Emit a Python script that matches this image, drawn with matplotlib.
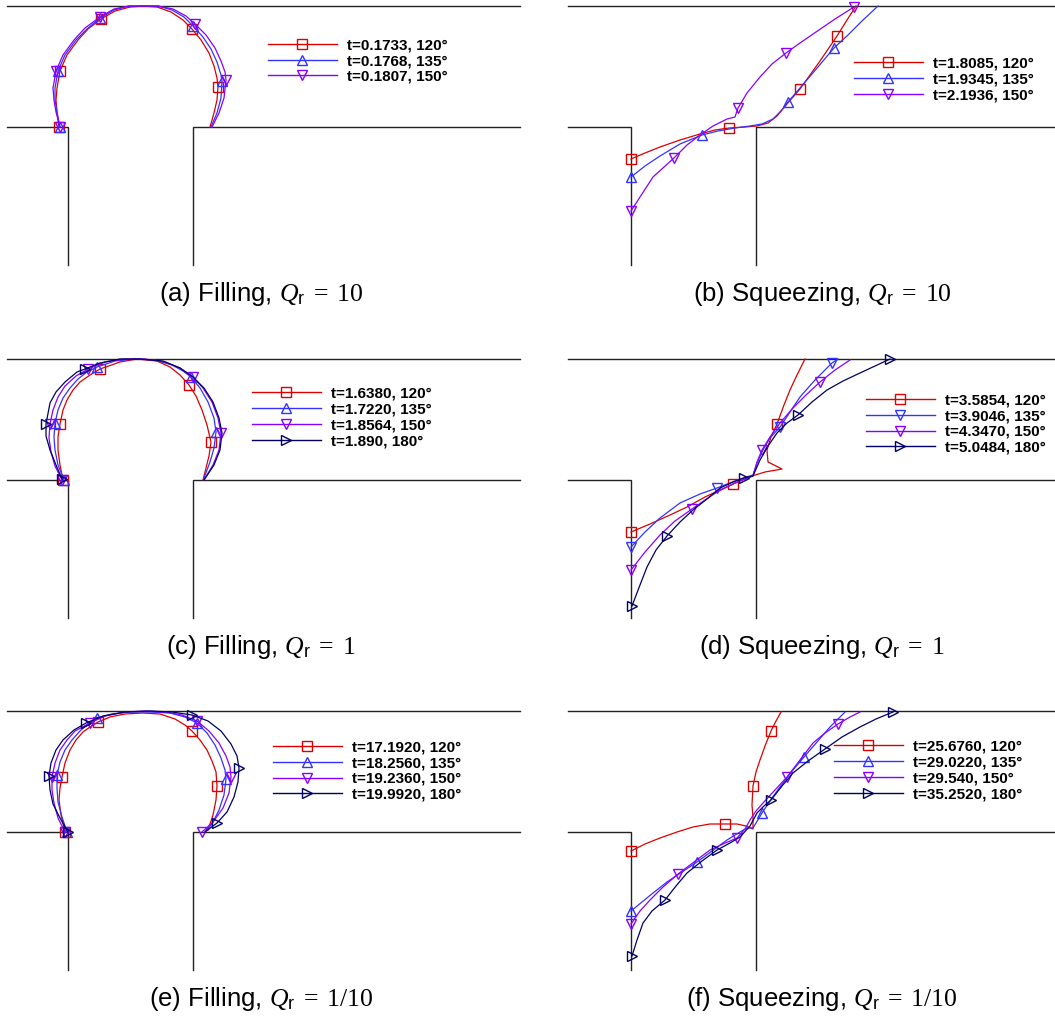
import matplotlib
matplotlib.use("Agg")
import matplotlib.pyplot as plt
from matplotlib.lines import Line2D

plt.rcParams["font.family"] = ["Liberation Sans", "DejaVu Sans"]
plt.rcParams["mathtext.fontset"] = "custom"
plt.rcParams["mathtext.rm"] = "Liberation Serif"
plt.rcParams["mathtext.it"] = "Liberation Serif:italic"
plt.rcParams["mathtext.sf"] = "Liberation Sans"

# channel geometry (same units as the interfaces)
CHANNEL_W = 125
TOP_WALL = 121
BOTTOM = -138

# interface shapes: (x, y) points, marker indices, legend label

# (a) Filling, Qr = 10
a_120 = [(-9, 0), (-11, 15), (-12, 27), (-11, 39), (-8, 56), (-1, 72), (10, 87), (20, 98),
         (33, 108), (47, 116), (62, 120), (75, 121), (89, 120), (103, 115), (115, 107),
         (124, 98), (133, 87), (141, 74), (146, 61), (149, 49), (150, 40), (149, 27),
         (146, 14), (142, 0)]
a_120_marks = [0, 4, 8, 15, 20]
a_135 = [(-8, 0), (-11, 15), (-13, 27), (-13, 39), (-10, 56), (-3, 72), (8, 87), (19, 98),
         (32, 109), (46, 117), (61, 121), (75, 121), (90, 121), (104, 117), (116, 110),
         (125, 101), (135, 90), (143, 78), (149, 65), (153, 52), (154, 46), (153, 29),
         (149, 14), (143, 0)]
a_135_marks = [0, 4, 8, 15, 20]
a_150 = [(-8, 0), (-12, 15), (-14, 27), (-15, 39), (-12, 56), (-5, 72), (6, 87), (17, 99),
         (32, 110), (46, 118), (61, 121), (75, 121), (90, 121), (105, 118), (118, 111),
         (127, 103), (138, 92), (147, 79), (153, 66), (157, 55), (158, 47), (156, 29),
         (151, 14), (144, 0)]
a_150_marks = [0, 4, 8, 15, 20]
a_labels = ["t=0.1733, 120°", "t=0.1768, 135°", "t=0.1807, 150°"]

# (b) Squeezing, Qr = 10
b_120 = [(0, -32), (14, -26), (29, -20), (49, -13), (69, -7), (84, -3), (98, -1), (114, 0),
         (126, 1), (137, 4), (146, 11), (156, 23), (169, 38), (179, 52), (189, 66),
         (206, 91), (216, 107), (225, 121)]
b_120_marks = [0, 6, 12, 15]
b_135 = [(0, -50), (14, -39), (29, -29), (49, -17), (71, -8), (87, -4), (104, -1), (119, 1),
         (131, 3), (142, 8), (150, 16), (157, 25), (169, 39), (181, 53), (192, 66),
         (203, 79), (217, 92), (231, 106), (247, 121)]
b_135_marks = [0, 4, 11, 15]
b_150 = [(0, -84), (9, -70), (22, -50), (43, -31), (56, -18), (69, -8), (82, 1), (96, 8),
         (104, 10), (107, 19), (116, 34), (129, 50), (141, 63), (155, 74), (169, 84),
         (185, 95), (204, 108), (223, 120)]
b_150_marks = [0, 3, 9, 13, 17]
b_labels = ["t=1.8085, 120°", "t=1.9345, 135°", "t=2.1936, 150°"]

# (c) Filling, Qr = 1
c_120 = [(-5, 0), (-8, 15), (-10, 30), (-10, 43), (-8, 56), (-5, 70), (-1, 80), (5, 90),
         (12, 98), (22, 105), (32, 111), (52, 118), (69, 121), (89, 119), (102, 113),
         (112, 105), (121, 95), (128, 84), (134, 70), (139, 55), (143, 38), (141, 24),
         (138, 12), (135, 0)]
c_120_marks = [0, 4, 10, 16, 20]
c_135 = [(-4, 0), (-10, 15), (-13, 30), (-14, 43), (-13, 57), (-10, 70), (-5, 82), (2, 92),
         (10, 101), (19, 108), (29, 113), (47, 119), (67, 121), (87, 120), (104, 115),
         (115, 109), (123, 103), (132, 92), (140, 78), (146, 62), (148, 48), (146, 32),
         (142, 18), (136, 2)]
c_135_marks = [0, 4, 10, 16, 20]
c_150 = [(-6, 0), (-13, 14), (-17, 28), (-19, 42), (-18, 56), (-15, 70), (-10, 83), (-3, 94),
         (8, 104), (20, 111), (37, 118), (57, 121), (77, 121), (97, 118), (112, 112),
         (125, 103), (135, 92), (144, 78), (150, 62), (153, 47), (151, 30), (145, 15),
         (136, 0)]
c_150_marks = [0, 4, 9, 15, 19]
c_180 = [(-6, 1), (-12, 15), (-18, 30), (-22, 44), (-22, 56), (-18, 77), (-12, 88), (-3, 98),
         (9, 108), (17, 111), (32, 117), (52, 121), (72, 121), (95, 119), (112, 112),
         (125, 103), (136, 92), (145, 78), (151, 62), (154, 47), (152, 30), (146, 15),
         (136, 0)]
c_180_marks = [0, 4, 9]
c_labels = ["t=1.6380, 120°", "t=1.7220, 135°", "t=1.8564, 150°", "t=1.890, 180°"]

# (d) Squeezing, Qr = 1
d_120 = [(0, -52), (19, -44), (39, -35), (56, -27), (74, -17), (89, -10), (102, -4), (114, 1),
         (121, 4), (134, 8), (151, 11), (137, 18), (136, 30), (140, 43), (146, 56),
         (153, 75), (159, 90), (166, 105), (174, 121)]
d_120_marks = [0, 6, 14]
d_135 = [(0, -67), (14, -52), (29, -38), (49, -23), (69, -14), (86, -8), (99, -3), (112, 2),
         (122, 5), (126, 17), (132, 30), (139, 42), (149, 53), (159, 68), (169, 83),
         (184, 100), (201, 117), (207, 121)]
d_135_marks = [0, 5, 12, 16]
d_150 = [(0, -90), (14, -72), (29, -55), (44, -41), (61, -29), (74, -20), (86, -12),
         (104, -3), (122, 4), (126, 18), (131, 30), (139, 43), (149, 57), (162, 72),
         (175, 85), (189, 98), (204, 110), (219, 120)]
d_150_marks = [0, 4, 10, 15]
d_180 = [(1, -126), (9, -105), (16, -87), (25, -70), (36, -56), (49, -42), (62, -30),
         (76, -19), (89, -8), (102, -2), (113, 2), (122, 4), (129, 20), (137, 34),
         (146, 47), (156, 57), (167, 65), (181, 78), (196, 90), (212, 99), (229, 107),
         (244, 114), (259, 121)]
d_180_marks = [0, 4, 10, 16, 22]
d_labels = ["t=3.5854, 120°", "t=3.9046, 135°", "t=4.3470, 150°", "t=5.0484, 180°"]

# (e) Filling, Qr = 1/10
e_120 = [(-3, 0), (-7, 17), (-9, 32), (-8, 44), (-6, 55), (-3, 69), (2, 82), (8, 92),
         (15, 100), (22, 105), (30, 110), (42, 115), (57, 118), (75, 119), (92, 118),
         (107, 113), (117, 107), (124, 101), (132, 92), (139, 82), (144, 71), (148, 60),
         (149, 46), (148, 32), (145, 17), (140, 2)]
e_120_marks = [0, 4, 10, 17, 22]
e_135 = [(-1, 0), (-6, 15), (-10, 30), (-11, 44), (-11, 57), (-8, 70), (-3, 82), (4, 92),
         (12, 101), (20, 108), (29, 114), (44, 118), (62, 120), (82, 120), (102, 119),
         (117, 115), (129, 109), (139, 99), (147, 87), (153, 74), (157, 62), (158, 53),
         (156, 37), (151, 22), (144, 8), (137, 0)]
e_135_marks = [0, 4, 10, 16, 21]
e_150 = [(-3, 0), (-10, 14), (-14, 29), (-16, 42), (-16, 55), (-13, 69), (-8, 82), (-1, 92),
         (7, 101), (22, 109), (37, 116), (57, 120), (77, 121), (97, 120), (114, 117),
         (129, 111), (141, 101), (151, 89), (158, 76), (162, 65), (163, 55), (161, 39),
         (155, 24), (145, 10), (134, 0)]
e_150_marks = [0, 4, 9, 15, 20, 24]
e_180 = [(0, 0), (-8, 14), (-15, 28), (-18, 42), (-19, 56), (-17, 69), (-12, 82), (-5, 92),
         (6, 102), (18, 109), (35, 116), (57, 120), (82, 121), (104, 120), (124, 117),
         (140, 111), (153, 101), (163, 88), (169, 76), (171, 64), (170, 50), (166, 35),
         (159, 20), (149, 9), (137, 0)]
e_180_marks = [0, 4, 9, 14, 19, 23]
e_labels = ["t=17.1920, 120°", "t=18.2560, 135°", "t=19.2360, 150°", "t=19.9920, 180°"]

# (f) Squeezing, Qr = 1/10
f_120 = [(0, -19), (14, -12), (29, -6), (46, 0), (62, 5), (79, 8), (94, 8), (106, 8),
         (115, 6), (122, 3), (122, 14), (121, 27), (122, 46), (125, 60), (129, 72),
         (134, 86), (140, 101), (145, 111), (150, 120)]
f_120_marks = [0, 6, 12, 16]
f_135 = [(0, -79), (11, -70), (22, -61), (36, -50), (51, -40), (66, -30), (81, -19),
         (96, -8), (109, 0), (116, 4), (122, 4), (131, 19), (141, 34), (152, 49), (162, 62),
         (173, 75), (186, 90), (199, 105), (214, 120)]
f_135_marks = [0, 5, 11, 15]
f_150 = [(0, -92), (9, -79), (19, -68), (32, -55), (47, -42), (63, -30), (79, -18),
         (92, -12), (106, -6), (114, 3), (119, 12), (125, 21), (132, 29), (144, 42),
         (156, 55), (169, 72), (182, 89), (194, 99), (207, 108), (219, 115), (229, 120)]
f_150_marks = [0, 4, 8, 14, 18]
f_180 = [(1, -124), (6, -108), (12, -91), (21, -79), (34, -68), (45, -54), (56, -41),
         (71, -29), (86, -18), (99, -11), (109, -5), (119, 6), (126, 19), (133, 26),
         (140, 32), (151, 46), (162, 59), (177, 71), (194, 83), (211, 95), (229, 105),
         (245, 113), (262, 120)]
f_180_marks = [0, 4, 8, 14, 18, 22]
f_labels = ["t=25.6760, 120°", "t=29.0220, 135°", "t=29.540, 150°", "t=35.2520, 180°"]

captions = [
    r"(a) Filling, $Q_{\mathsf{r}}\;=\;10$",
    r"(b) Squeezing, $Q_{\mathsf{r}}\;=\;10$",
    r"(c) Filling, $Q_{\mathsf{r}}\;=\;1$",
    r"(d) Squeezing, $Q_{\mathsf{r}}\;=\;1$",
    r"(e) Filling, $Q_{\mathsf{r}}\;=\;1/10$",
    r"(f) Squeezing, $Q_{\mathsf{r}}\;=\;1/10$",
]

COLORS = {120: "#dd0000", 135: "#3333ff", 150: "#8800ff", 180: "#000066"}
MARKERS = {120: "s", 135: "^", 150: "v", 180: ">"}

FIG_W, FIG_H = 1055, 1017
fig = plt.figure(figsize=(FIG_W / 100, FIG_H / 100), dpi=100)


def panel(col, row, curves, labels, caption, legend_xy, markers=None):
    """One flow panel: walls, interfaces, legend and caption (layout in pixels)."""
    x0, x1 = [(7, 520), (568, 1055)][col]
    corner_x = [68, 631][col]
    step_y = [127, 480, 832][row]
    ax = fig.add_axes([x0 / FIG_W, 1 - (step_y - BOTTOM) / FIG_H,
                       (x1 - x0) / FIG_W, (TOP_WALL - BOTTOM) / FIG_H])
    xmin, xmax = x0 - corner_x, x1 - corner_x
    ax.set_xlim(xmin, xmax)
    ax.set_ylim(BOTTOM, TOP_WALL)
    ax.set_axis_off()

    wall = dict(color="#222222", lw=1.0, clip_on=False, solid_joinstyle="miter")
    ax.plot([xmin, xmax], [TOP_WALL, TOP_WALL], **wall)
    ax.plot([xmin, 0, 0], [0, 0, BOTTOM], **wall)
    ax.plot([CHANNEL_W, CHANNEL_W, xmax], [BOTTOM, 0, 0], **wall)

    markers = markers or MARKERS
    handles = []
    for angle, (pts, marks) in curves.items():
        xs = [p[0] for p in pts]
        ys = [p[1] for p in pts]
        ax.plot(xs, ys, color=COLORS[angle], lw=0.9, marker=markers[angle],
                markevery=marks, ms=6.5, mew=1.0, mfc="none", clip_on=False)
        handles.append(Line2D([], [], color=COLORS[angle], lw=1.0, marker=markers[angle],
                              ms=6.5, mew=1.0, mfc="none"))

    ax.legend(handles, labels, loc="center left",
              bbox_to_anchor=(legend_xy[0] / FIG_W, 1 - legend_xy[1] / FIG_H),
              bbox_transform=fig.transFigure, frameon=False, borderpad=0,
              borderaxespad=0, handlelength=4.5, handletextpad=0.7, labelspacing=0.12,
              prop={"family": "Liberation Sans", "weight": "bold", "size": 11})

    cap_x = [261, 822][col]
    cap_y = [294, 647, 999][row]
    fig.text(cap_x / FIG_W, 1 - cap_y / FIG_H, caption, ha="center", va="center",
             fontsize=18.5)


panel(0, 0, {120: (a_120, a_120_marks), 135: (a_135, a_135_marks),
             150: (a_150, a_150_marks)}, a_labels, captions[0], (268, 61))
panel(1, 0, {120: (b_120, b_120_marks), 135: (b_135, b_135_marks),
             150: (b_150, b_150_marks)}, b_labels, captions[1], (854, 79.5))
panel(0, 1, {120: (c_120, c_120_marks), 135: (c_135, c_135_marks),
             150: (c_150, c_150_marks), 180: (c_180, c_180_marks)},
      c_labels, captions[2], (252, 417.5))
panel(1, 1, {120: (d_120, d_120_marks), 135: (d_135, d_135_marks),
             150: (d_150, d_150_marks), 180: (d_180, d_180_marks)},
      d_labels, captions[3], (866, 424), markers={**MARKERS, 135: "v"})
panel(0, 2, {120: (e_120, e_120_marks), 135: (e_135, e_135_marks),
             150: (e_150, e_150_marks), 180: (e_180, e_180_marks)},
      e_labels, captions[4], (273, 771))
panel(1, 2, {120: (f_120, f_120_marks), 135: (f_135, f_135_marks),
             150: (f_150, f_150_marks), 180: (f_180, f_180_marks)},
      f_labels, captions[5], (834, 770.5))

fig.savefig("out.png", dpi=100)
